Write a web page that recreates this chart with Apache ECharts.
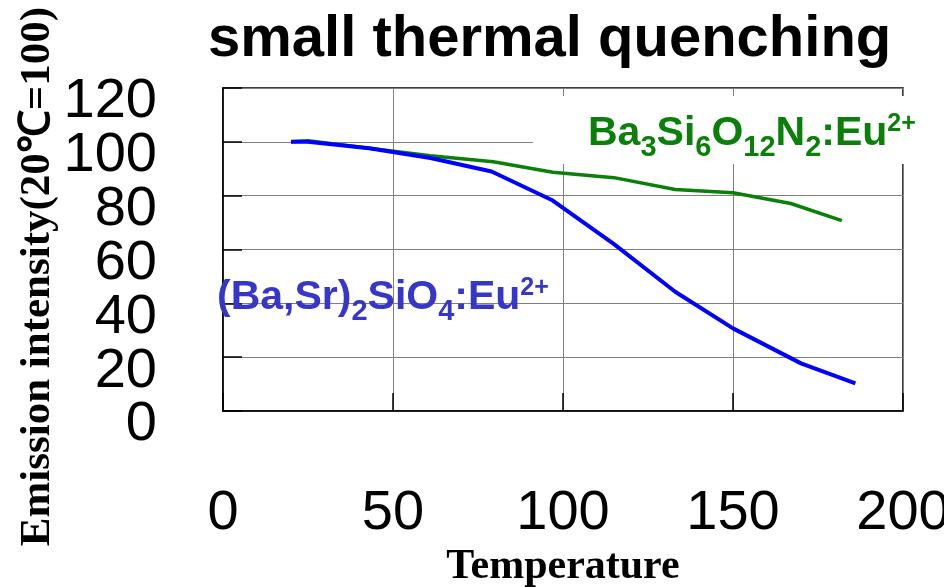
<!DOCTYPE html>
<html>
<head>
<meta charset="utf-8">
<script src="https://cdn.jsdelivr.net/npm/echarts@6/dist/echarts.min.js"></script>
<style>html,body{margin:0;padding:0;background:#fff}#c{width:944px;height:587px}</style>
</head>
<body>
<div id="c"></div>
<script>
const chartTitle = 'small thermal quenching';
const xName = 'Temperature';
const yName = 'Emission intensity(20\u2103=100)';
const xTicks = [0, 50, 100, 150, 200];
const yTicks = [0, 20, 40, 60, 80, 100, 120];
const blueTemp = [20, 25, 43, 61, 79, 97, 115, 133, 150, 170, 186];
const blueVal  = [100, 100, 97.6, 94, 89, 78.2, 62, 44.3, 30.7, 17.7, 10.3];
const greenTemp = [20, 25, 43, 61, 79.5, 97, 115, 133, 150, 167, 182];
const greenVal  = [100, 100.4, 97.6, 94.8, 92.6, 88.7, 86.7, 82.3, 81.1, 77.1, 70.7];

const pair = (xs, ys) => xs.map((x, i) => [x, ys[i]]);
const chart = echarts.init(document.getElementById('c'), null, {renderer: 'canvas'});
const sans = 'Liberation Sans, Arial, sans-serif';
const serif = 'Liberation Serif, Times New Roman, serif';

function richStyles(color) {
  return {
    m: {fontSize: 41, fontWeight: 'bold', fontFamily: sans, fill: color, lineHeight: 60, verticalAlign: 'middle'},
    s: {fontSize: 29, fontWeight: 'bold', fontFamily: sans, fill: color, verticalAlign: 'bottom', padding: [0, 0, 2, 0]},
    p: {fontSize: 25, fontWeight: 'bold', fontFamily: sans, fill: color, verticalAlign: 'top', padding: [8, 0, 0, 0]}
  };
}

// y tick labels are split over two overlaid axes (alternate ticks) so the large
// labels are not dropped by the overlap check; both use the same scale.
function yAxisDef(first, keepRemainder) {
  const step = yTicks[1] - yTicks[0];
  const ax = {
    type: 'value', min: yTicks[0], max: yTicks[yTicks.length - 1], interval: step,
    position: 'left', offset: 0,
    axisLine: {show: first, lineStyle: {color: '#000', width: 1.5}},
    axisTick: {show: first, inside: true, length: 19, lineStyle: {color: '#000', width: 1.5}},
    splitLine: {show: first, lineStyle: {color: '#7f7f7f', width: 1}},
    axisLabel: {color: '#000', margin: 66,
                formatter: v => (Math.round(v / step) % 2 === keepRemainder) ? '{v|' + v + '}' : '',
                rich: {v: {fontSize: 56, fontFamily: sans, color: '#000', lineHeight: 20, padding: [28, 0, 0, 0]}},
                showMinLabel: true, showMaxLabel: true, hideOverlap: false}
  };
  if (first) {
    Object.assign(ax, {
      name: yName, nameLocation: 'middle', nameGap: 164, nameRotate: 90, nameMoveOverlap: false,
      nameTextStyle: {fontSize: 43, fontWeight: 'bold', fontFamily: serif, color: '#000', padding: [0, 54, 0, 0]}
    });
  }
  return ax;
}

chart.setOption({
  animation: false,
  backgroundColor: '#fff',
  title: {
    text: chartTitle, left: 203, top: 6,
    textStyle: {fontSize: 58, fontWeight: 'bold', fontFamily: sans, color: '#000'}
  },
  grid: {left: 223, right: 41, top: 88, bottom: 176, containLabel: false, outerBoundsMode: 'none',
         show: true, borderColor: '#000', borderWidth: 1.5, backgroundColor: 'transparent'},
  xAxis: {
    type: 'value', min: xTicks[0], max: xTicks[xTicks.length - 1], interval: 50,
    name: xName, nameLocation: 'middle', nameGap: 135, nameMoveOverlap: false,
    nameTextStyle: {fontSize: 42, fontWeight: 'bold', fontFamily: serif, color: '#000'},
    axisLine: {show: true, lineStyle: {color: '#000', width: 1.5}},
    axisTick: {show: true, inside: true, length: 18, lineStyle: {color: '#000', width: 1.5}},
    splitLine: {show: true, lineStyle: {color: '#7f7f7f', width: 1}},
    axisLabel: {fontSize: 56, fontFamily: sans, color: '#000', margin: 75,
                showMinLabel: true, showMaxLabel: true, hideOverlap: false}
  },
  yAxis: [yAxisDef(true, 0), yAxisDef(false, 1)],
  series: [
    {type: 'line', data: pair(greenTemp, greenVal), showSymbol: false, symbol: 'none',
     lineStyle: {color: '#0a800a', width: 3.5}, z: 3},
    {type: 'line', data: pair(blueTemp, blueVal), showSymbol: false, symbol: 'none',
     lineStyle: {color: '#0000ff', width: 4}, z: 4}
  ],
  graphic: [
    {type: 'text', x: 533, y: 96, z: 100,
     style: {text: '{m|Ba}{s|3}{m|Si}{s|6}{m|O}{s|12}{m|N}{s|2}{m|:Eu}{p|2+}',
             rich: richStyles('#0a800a'), backgroundColor: '#fff', padding: [8, 0, 0, 55]}},
    {type: 'text', x: 217, y: 268, z: 100,
     style: {text: '{m|(Ba,Sr)}{s|2}{m|SiO}{s|4}{m|:Eu}{p|2+}', rich: richStyles('#3636c8')}}
  ]
});
</script>
</body>
</html>
